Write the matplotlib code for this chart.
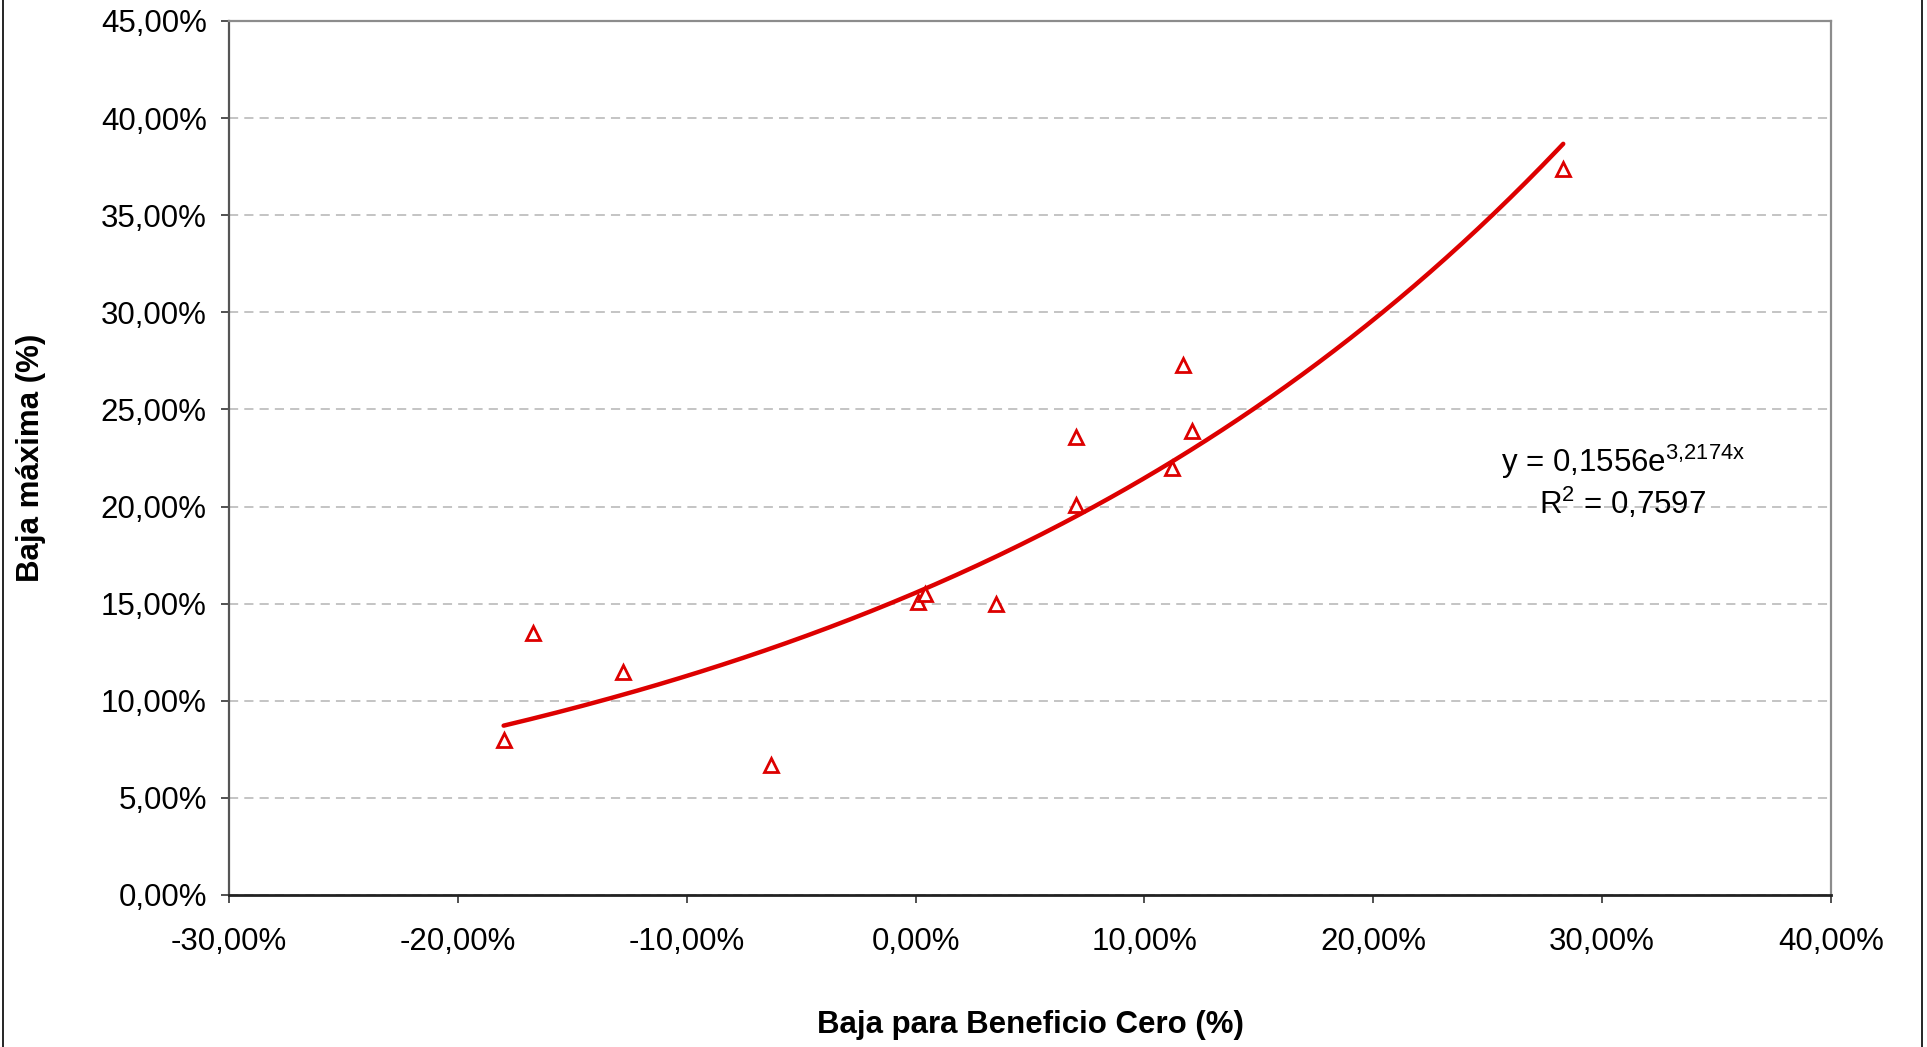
import numpy as np
import matplotlib
matplotlib.use("Agg")
import matplotlib.pyplot as plt
from matplotlib.ticker import FuncFormatter, MultipleLocator
from matplotlib.lines import Line2D

plt.rcParams["font.family"] = ["Liberation Sans", "DejaVu Sans"]
plt.rcParams["mathtext.fontset"] = "custom"
plt.rcParams["mathtext.rm"] = "Liberation Sans"
plt.rcParams["mathtext.it"] = "Liberation Sans"

# Baja para Beneficio Cero vs Baja máxima (fractions)
baja_beneficio_cero = [-0.180, -0.167, -0.128, -0.063, 0.001, 0.004, 0.035,
                       0.070, 0.070, 0.112, 0.117, 0.121, 0.283]
baja_maxima = [0.080, 0.135, 0.115, 0.067, 0.151, 0.155, 0.150,
               0.236, 0.201, 0.220, 0.273, 0.239, 0.374]

# exponential trendline y = a*e^(b*x)
fit_a = 0.1556
fit_b = 3.2174
r2 = 0.7597

RED = "#dd0000"
FS = 22.5

fig = plt.figure(figsize=(19.27, 10.47), dpi=100)
ax = fig.add_axes([229 / 1927, 1 - 895 / 1047, (1831 - 229) / 1927, (895 - 21) / 1047])

xs = np.linspace(min(baja_beneficio_cero), max(baja_beneficio_cero), 200)
ax.plot(xs, fit_a * np.exp(fit_b * xs), color=RED, lw=3.2, solid_capstyle="round", zorder=3)
ax.plot(baja_beneficio_cero, baja_maxima, ls="none", marker="^", ms=10.5,
        mfc="white", mec=RED, mew=2.0, zorder=4)

ax.set_xlim(-0.30, 0.40)
ax.set_ylim(0, 0.45)
ax.xaxis.set_major_locator(MultipleLocator(0.10))
ax.yaxis.set_major_locator(MultipleLocator(0.05))
pct = FuncFormatter(lambda v, p: f"{v * 100:.2f}%".replace(".", ",").replace("-0,00", "0,00"))
ax.xaxis.set_major_formatter(pct)
ax.yaxis.set_major_formatter(pct)

ax.yaxis.grid(True, ls=(0, (6, 4)), color="#b4b4b4", lw=1.1)
ax.set_axisbelow(True)
for s in ("top", "right"):
    ax.spines[s].set_color("#8c8c8c")
    ax.spines[s].set_linewidth(1.6)
ax.spines["left"].set_color("#555555")
ax.spines["left"].set_linewidth(1.6)
ax.spines["bottom"].set_color("#222222")
ax.spines["bottom"].set_linewidth(2.0)

ax.tick_params(axis="both", direction="out", length=6, width=1.2, color="#333333",
               labelsize=FS)
ax.tick_params(axis="x", pad=17)
ax.tick_params(axis="y", pad=10)

ax.set_xlabel("Baja para Beneficio Cero (%)", fontsize=FS, fontweight="bold")
ax.xaxis.set_label_coords(0.5, -0.132)
ax.set_ylabel("Baja máxima (%)", fontsize=FS, fontweight="bold")
ax.yaxis.set_label_coords(-0.114, 0.5)

eq = f"y = {fit_a:.4f}".replace(".", ",") + "e$^{" + f"{fit_b:.4f}".replace(".", "{,}") + "x}$"
ax.text(0.309, 0.223, eq, fontsize=FS, ha="center", va="center")
ax.text(0.309, 0.2015, "R$^{2}$ = " + f"{r2:.4f}".replace(".", ","), fontsize=FS,
        ha="center", va="center")

# outer chart border
for xb in (2.5 / 1927, 1922 / 1927):
    fig.add_artist(Line2D([xb, xb], [0, 1], color="black", lw=1.2, transform=fig.transFigure))

fig.savefig("out.png", dpi=100)
